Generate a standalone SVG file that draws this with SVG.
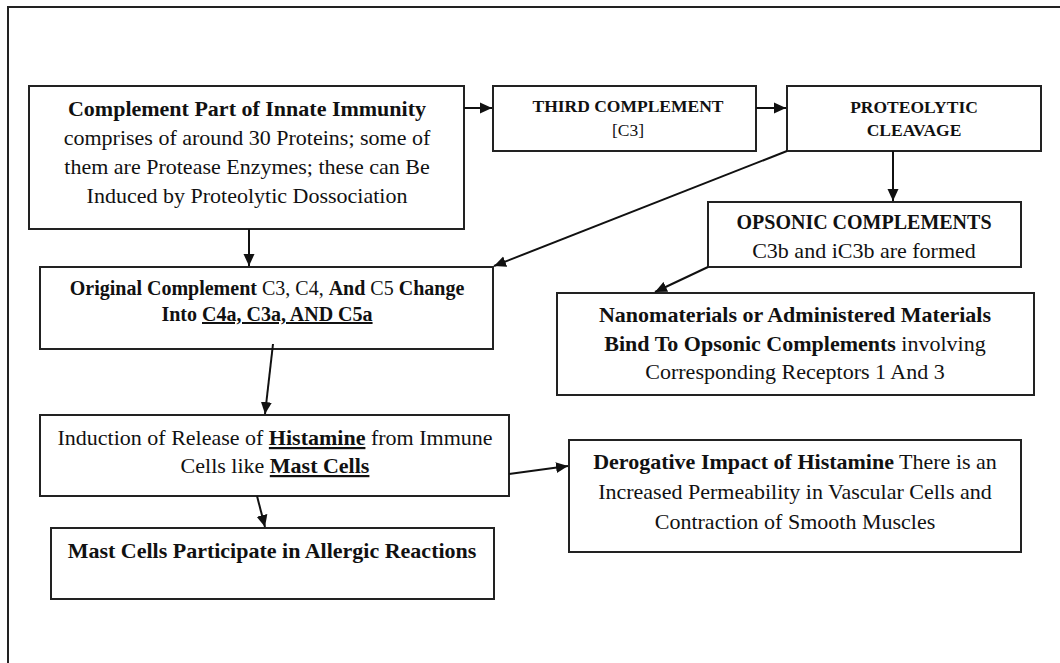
<svg xmlns="http://www.w3.org/2000/svg" width="1060" height="663" viewBox="0 0 1060 663">
<defs>
<marker id="ah" viewBox="0 0 12 12" refX="12" refY="6" markerWidth="12" markerHeight="12" markerUnits="userSpaceOnUse" orient="auto">
<path d="M0,0.5 L12,6 L0,11.5 z" fill="#111"/>
</marker>
<style>
.box{fill:#fff;stroke:#222;stroke-width:2}
.t{font-family:"Liberation Serif","Times New Roman",serif;font-size:22px;fill:#111;text-anchor:middle}
.s{font-size:17.5px}
.m{font-size:20px}
.b{font-weight:bold}
.u{text-decoration:underline}
.c{stroke:#111;stroke-width:2;fill:none;marker-end:url(#ah)}
</style>
</defs>
<rect width="1060" height="663" fill="#fff"/>
<path d="M8,663 L8,7 L1060,7" fill="none" stroke="#222" stroke-width="2"/>

<g id="n1">
<rect class="box" x="29" y="86" width="435" height="143"/>
<text class="t" x="247" y="116"><tspan class="b">Complement Part of Innate Immunity</tspan></text>
<text class="t" x="247" y="145">comprises of around 30 Proteins; some of</text>
<text class="t" x="247" y="174">them are Protease Enzymes; these can Be</text>
<text class="t" x="247" y="203">Induced by Proteolytic Dossociation</text>
</g>

<g id="n2">
<rect class="box" x="493" y="86" width="263" height="65"/>
<text class="t s" x="628" y="112"><tspan class="b">THIRD COMPLEMENT</tspan></text>
<text class="t s" x="628" y="136">[C3]</text>
</g>

<g id="n3">
<rect class="box" x="787" y="86" width="254" height="65"/>
<text class="t s" x="914" y="113"><tspan class="b">PROTEOLYTIC</tspan></text>
<text class="t s" x="914" y="136"><tspan class="b">CLEAVAGE</tspan></text>
</g>

<g id="n4">
<rect class="box" x="708" y="202" width="313" height="65"/>
<text class="t m" x="864" y="229"><tspan class="b">OPSONIC COMPLEMENTS</tspan></text>
<text class="t" x="864" y="258">C3b and iC3b are formed</text>
</g>

<g id="n5">
<rect class="box" x="40" y="267" width="453" height="82"/>
<text class="t m" x="267" y="295"><tspan class="b">Original Complement</tspan> C3, C4, <tspan class="b">And</tspan> C5 <tspan class="b">Change</tspan></text>
<text class="t m" x="267" y="321"><tspan class="b">Into </tspan><tspan class="b u">C4a, C3a, AND C5a</tspan></text>
</g>

<g id="n6">
<rect class="box" x="557" y="293" width="477" height="102"/>
<text class="t" x="795" y="322"><tspan class="b">Nanomaterials or Administered Materials</tspan></text>
<text class="t" x="795" y="351"><tspan class="b">Bind To Opsonic Complements</tspan> involving</text>
<text class="t" x="795" y="379">Corresponding Receptors 1 And 3</text>
</g>

<g id="n7">
<rect class="box" x="40" y="415" width="469" height="81"/>
<text class="t" x="275" y="445">Induction of Release of <tspan class="b u">Histamine</tspan> from Immune</text>
<text class="t" x="275" y="473">Cells like <tspan class="b u">Mast Cells</tspan></text>
</g>

<g id="n8">
<rect class="box" x="569" y="440" width="452" height="112"/>
<text class="t" x="795" y="469"><tspan class="b">Derogative Impact of Histamine</tspan> There is an</text>
<text class="t" x="795" y="499">Increased Permeability in Vascular Cells and</text>
<text class="t" x="795" y="529">Contraction of Smooth Muscles</text>
</g>

<g id="n9">
<rect class="box" x="51" y="528" width="443" height="71"/>
<text class="t" x="272" y="558"><tspan class="b">Mast Cells Participate in Allergic Reactions</tspan></text>
</g>

<g id="connectors">
<line class="c" x1="464" y1="108" x2="492" y2="108"/>
<line class="c" x1="756" y1="108" x2="786" y2="108"/>
<line class="c" x1="893" y1="151" x2="893" y2="201"/>
<line class="c" x1="787" y1="151" x2="494" y2="266"/>
<line class="c" x1="249" y1="229" x2="249" y2="266"/>
<line class="c" x1="708" y1="267" x2="655" y2="292"/>
<line class="c" x1="273" y1="344" x2="265" y2="414"/>
<line class="c" x1="257" y1="496" x2="265" y2="527"/>
<line class="c" x1="509" y1="474" x2="568" y2="466"/>
</g>
</svg>
